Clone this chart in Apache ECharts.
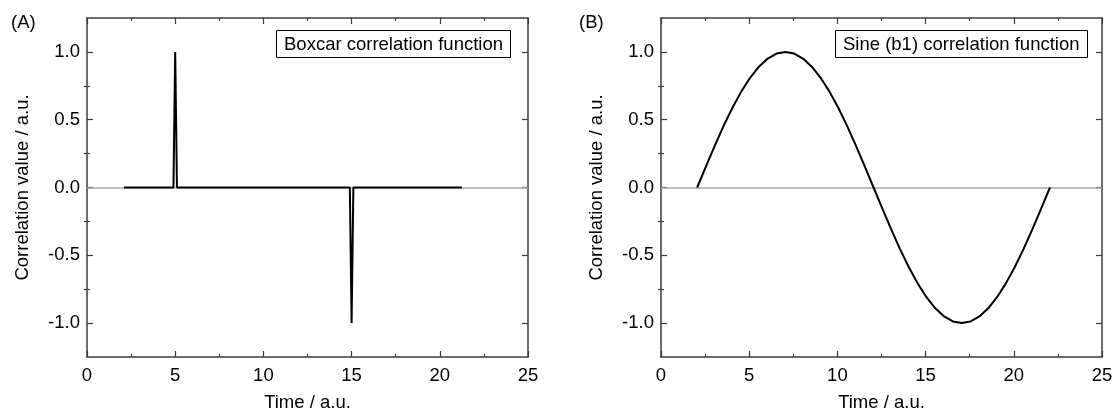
<!DOCTYPE html>
<html>
<head>
<meta charset="utf-8">
<script src="https://cdn.jsdelivr.net/npm/echarts@6/dist/echarts.min.js"></script>
<style>
html,body{margin:0;padding:0;background:#fff;}
#chart{width:1116px;height:417px;}
</style>
</head>
<body>
<div id="chart"></div>
<script>
// ---- data ----
var boxcarX = [2.1, 4.9, 5.0, 5.1, 14.9, 15.0, 15.1, 21.25];
var boxcarY = [0, 0, 1, 0, 0, -1, 0, 0];

var sineX = [2.05, 2.55, 3.05, 3.55, 4.05, 4.55, 5.05, 5.55, 6.05, 6.55, 7.05, 7.55, 8.05, 8.55, 9.05, 9.55,
  10.05, 10.55, 11.05, 11.55, 12.05, 12.55, 13.05, 13.55, 14.05, 14.55, 15.05, 15.55, 16.05, 16.55, 17.05,
  17.55, 18.05, 18.55, 19.05, 19.55, 20.05, 20.55, 21.05, 21.55, 22.05];
var sineY = [0, 0.156, 0.309, 0.454, 0.588, 0.707, 0.809, 0.891, 0.951, 0.988, 1.0, 0.988, 0.951, 0.891, 0.809,
  0.707, 0.588, 0.454, 0.309, 0.156, 0, -0.156, -0.309, -0.454, -0.588, -0.707, -0.809, -0.891, -0.951, -0.988,
  -1.0, -0.988, -0.951, -0.891, -0.809, -0.707, -0.588, -0.454, -0.309, -0.156, 0];

var xTicks = [0, 5, 10, 15, 20, 25];
var yMajorTicks = [-1.0, -0.5, 0.0, 0.5, 1.0];
var yMinorTicks = [-0.75, -0.25, 0.25, 0.75];

var panelLabels = ['(A)', '(B)'];
var boxLabels = ['Boxcar correlation function', 'Sine (b1) correlation function'];
var xTitle = 'Time / a.u.';
var yTitle = 'Correlation value / a.u.';

// ---- styling / layout ----
var FONT = '"Liberation Sans", Arial, sans-serif';
var FS = 18.5;
var AXC = '#3c3c3c';
var grids = [
  {left: 87, top: 18, width: 441, height: 339},
  {left: 661, top: 18, width: 441, height: 339}
];

function zip(a, b) { return a.map(function (v, i) { return [v, b[i]]; }); }

var xAxes = [], yAxes = [], series = [];
grids.forEach(function (g, gi) {
  xAxes.push({
    gridIndex: gi, type: 'value', position: 'bottom',
    min: xTicks[0], max: xTicks[xTicks.length - 1], interval: xTicks[1] - xTicks[0],
    name: xTitle, nameLocation: 'middle', nameGap: 36,
    nameTextStyle: {fontFamily: FONT, fontSize: FS, color: '#000'},
    axisLine: {show: true, onZero: false, lineStyle: {color: AXC, width: 1.5}},
    axisTick: {show: true, inside: true, length: 6, lineStyle: {color: AXC, width: 1.2}},
    minorTick: {show: true, splitNumber: 2, length: 3, lineStyle: {color: AXC, width: 1.2}},
    axisLabel: {margin: 9, fontFamily: FONT, fontSize: FS, color: '#000'},
    splitLine: {show: false}
  });
  xAxes.push({
    gridIndex: gi, type: 'value', position: 'top',
    min: xTicks[0], max: xTicks[xTicks.length - 1], interval: xTicks[1] - xTicks[0],
    axisLine: {show: true, onZero: false, lineStyle: {color: AXC, width: 1.5}},
    axisTick: {show: true, inside: true, length: 6, lineStyle: {color: AXC, width: 1.2}},
    minorTick: {show: true, splitNumber: 2, length: 3, lineStyle: {color: AXC, width: 1.2}},
    axisLabel: {show: false},
    splitLine: {show: false}
  });
  ['left', 'right'].forEach(function (pos) {
    yAxes.push({
      gridIndex: gi, type: 'value', position: pos,
      min: -1.25, max: 1.25,
      name: pos === 'left' ? yTitle : '', nameLocation: 'middle', nameGap: 55,
      nameTextStyle: {fontFamily: FONT, fontSize: FS, color: '#000'},
      axisLine: {show: true, onZero: false, lineStyle: {color: AXC, width: 1.5}},
      axisTick: {show: true, inside: true, length: 6, customValues: yMajorTicks, lineStyle: {color: AXC, width: 1.2}},
      axisLabel: {show: pos === 'left', customValues: yMajorTicks, margin: 7, fontFamily: FONT, fontSize: FS, color: '#000',
        formatter: function (v) { return v.toFixed(1); }},
      splitLine: {show: false}
    });
    yAxes.push({
      gridIndex: gi, type: 'value', position: pos,
      min: -1.25, max: 1.25,
      axisLine: {show: false},
      axisTick: {show: true, inside: true, length: 3, customValues: yMinorTicks, lineStyle: {color: AXC, width: 1.2}},
      axisLabel: {show: false},
      splitLine: {show: false}
    });
  });
});

series.push({
  type: 'line', xAxisIndex: 0, yAxisIndex: 0, z: 3,
  data: zip(boxcarX, boxcarY), showSymbol: false, symbol: 'none',
  lineStyle: {color: '#000', width: 2},
  markLine: {z: 1, silent: true, symbol: 'none', label: {show: false},
    lineStyle: {color: '#a8a8a8', type: 'solid', width: 1.5}, data: [{yAxis: 0}]}
});
series.push({
  type: 'line', xAxisIndex: 2, yAxisIndex: 4, z: 3,
  data: zip(sineX, sineY), showSymbol: false, symbol: 'none',
  lineStyle: {color: '#000', width: 2},
  markLine: {z: 1, silent: true, symbol: 'none', label: {show: false},
    lineStyle: {color: '#a8a8a8', type: 'solid', width: 1.5}, data: [{yAxis: 0}]}
});

var titles = [
  {text: panelLabels[0], left: 6, top: 8},
  {text: panelLabels[1], left: 574, top: 8},
  {text: boxLabels[0], left: 276, top: 30, borderColor: '#000', borderWidth: 1, padding: [5, 8, 4, 8]},
  {text: boxLabels[1], left: 835, top: 30, borderColor: '#000', borderWidth: 1, padding: [5, 8, 4, 8]}
].map(function (t) {
  t.textStyle = {fontFamily: FONT, fontSize: FS, fontWeight: 'normal', color: '#000'};
  return t;
});

var chart = echarts.init(document.getElementById('chart'), null, {renderer: 'canvas'});
chart.setOption({
  animation: false,
  backgroundColor: '#fff',
  title: titles,
  grid: grids,
  xAxis: xAxes,
  yAxis: yAxes,
  series: series
});
</script>
</body>
</html>
